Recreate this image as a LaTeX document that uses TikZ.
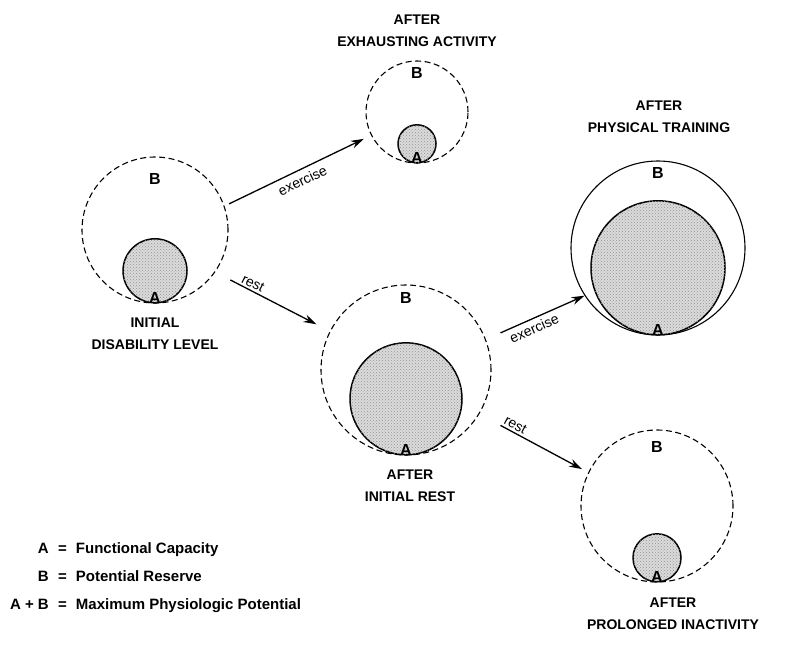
\documentclass[tikz,border=0pt]{standalone}
\usepackage{fontspec}
\setmainfont{Liberation Sans}
\usetikzlibrary{positioning,patterns,arrows.meta}

\tikzset{
  reserve/.style={circle, draw, dash pattern=on 6pt off 3.5pt, line width=1.1pt, inner sep=0pt},
  trained/.style={circle, draw, line width=1.1pt, inner sep=0pt},
  capacity/.style={circle, draw, line width=1.5pt, inner sep=0pt, fill=gray!28,
    postaction={pattern=crosshatch dots, pattern color=gray!85}},
  letter/.style={font=\fontsize{16}{16}\selectfont\bfseries, inner sep=0pt},
  caption/.style={font=\fontsize{14}{22}\selectfont\bfseries, align=center, inner sep=0pt},
  change/.style={-{Stealth[length=13pt,width=8pt]}, line width=1.3pt},
  verb/.style={font=\fontsize{14}{14}\selectfont, sloped, inner sep=2pt},
  legend/.style={font=\fontsize{15}{15}\selectfont\bfseries, inner sep=0pt}
}

\begin{document}
\begin{tikzpicture}[x=1pt,y=-1pt]
 \useasboundingbox (0,0) rectangle (787,650);
 % initial disability level
 \node[reserve, minimum size=146pt] (init) at (155,230) {};
 \node[capacity, minimum size=64pt, anchor=south] (initA) at (init.south) {};
 \node[letter, below=17pt] at (init.north) {B};
 \node[letter, above=0pt] at (initA.south) {A};
 \node[caption] (initcap) at (155,334) {INITIAL\\DISABILITY LEVEL};
 % after exhausting activity
 \node[reserve, minimum size=102pt] (exh) at (417,112) {};
 \node[capacity, minimum size=38pt, anchor=south] (exhA) at (exh.south) {};
 \node[letter, below=7pt] at (exh.north) {B};
 \node[letter, above=0pt] at (exhA.south) {A};
 \node[caption] (exhcap) at (417,31) {AFTER\\EXHAUSTING ACTIVITY};
 % after initial rest
 \node[reserve, minimum size=170pt] (rest) at (406,370) {};
 \node[capacity, minimum size=112pt, anchor=south] (restA) at (rest.south) {};
 \node[letter, below=8pt] at (rest.north) {B};
 \node[letter, above=0pt] at (restA.south) {A};
 \node[caption] (restcap) at (410,486) {AFTER\\INITIAL REST};
 % after physical training
 \node[trained, minimum size=174pt] (train) at (658,248) {};
 \node[capacity, minimum size=134pt, anchor=south] (trainA) at (train.south) {};
 \node[letter, below=7pt] at (train.north) {B};
 \node[letter, above=0pt] at (trainA.south) {A};
 \node[caption] (traincap) at (659,117) {AFTER\\PHYSICAL TRAINING};
 % after prolonged inactivity
 \node[reserve, minimum size=152pt] (inact) at (657,506) {};
 \node[capacity, minimum size=48pt, anchor=south] (inactA) at (inact.south) {};
 \node[letter, below=12pt] at (inact.north) {B};
 \node[letter, above=0pt] at (inactA.south) {A};
 \node[caption] (inactcap) at (673,614) {AFTER\\PROLONGED INACTIVITY};
 % transitions
 \draw[change, shorten <=5pt, shorten >=8pt] (init.19) -- node[verb, below, inner sep=5pt] {exercise} (exh.207);
 \draw[change, shorten <=17pt, shorten >=15pt] (init.-35) -- node[verb, above, pos=0.3] {rest} (rest.153);
 \draw[change, shorten <=16pt] (rest.21) -- node[verb, below, pos=0.45, inner sep=4pt] {exercise} (train.213);
 \draw[change, shorten <=24pt, shorten >=7pt] (rest.-31) -- node[verb, above, pos=0.3] {rest} (inact.154);
 % legend
 \node[legend, anchor=base east] (keyA) at (49,553) {A};
 \node[legend, anchor=base east] (keyB) at (49,581) {B};
 \node[legend, anchor=base east] (keyAB) at (49,609) {A + B};
 \foreach \k/\txt in {keyA/Functional Capacity, keyB/Potential Reserve, keyAB/Maximum Physiologic Potential}
  \node[legend, anchor=base west] at ([xshift=9pt]\k.base east) {=\hspace{9pt}\txt};
\end{tikzpicture}
\end{document}
